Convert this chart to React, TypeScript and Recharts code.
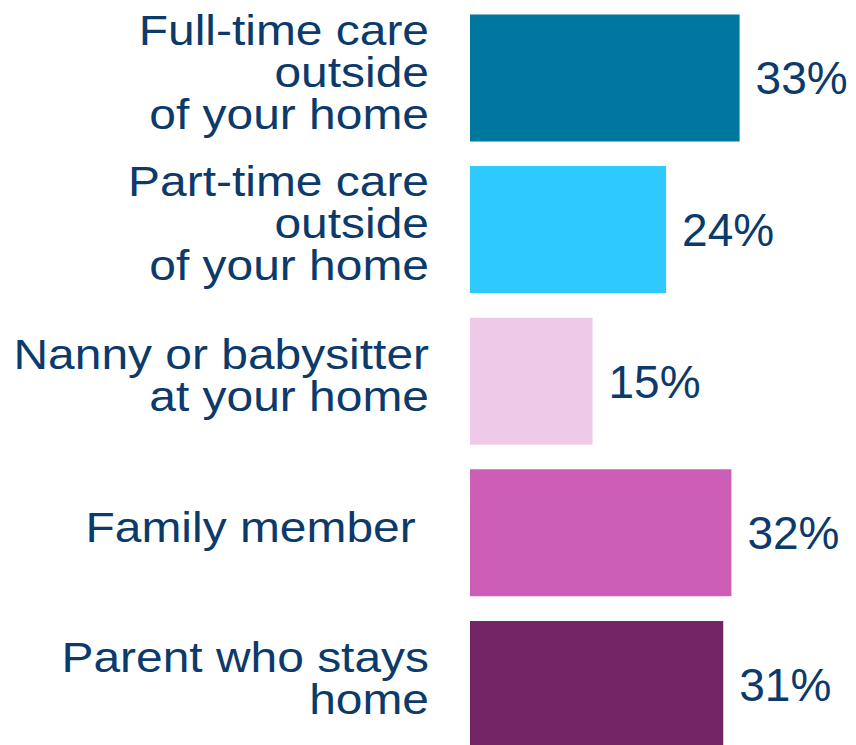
import { BarChart, Bar, XAxis, YAxis, Cell, LabelList } from 'recharts'

const categories = [
  'Full-time care\noutside\nof your home',
  'Part-time care\noutside\nof your home',
  'Nanny or babysitter\nat your home',
  'Family member ',
  'Parent who stays\nhome',
]
const values = [33, 24, 15, 32, 31]
const colors = ['#00779F', '#2EC9FF', '#EFCAE8', '#CC5EB8', '#732566']

const TEXT = '#0B3A6B'
const FONT = '"Liberation Sans", Arial, sans-serif'

const data = categories.map((name, i) => ({ name, value: values[i] }))

// multi-line, right-aligned category labels, slightly stretched like the source
const CategoryTick = ({ x, y, payload }: any) => {
  const lines = String(payload.value).split('\n')
  const lh = 42
  const first = -((lines.length - 1) * lh) / 2 + 9
  return (
    <g transform={`translate(${x},${y}) scale(1.115,1)`}>
      {lines.map((l, i) => (
        <text
          key={i}
          x={0}
          y={first + i * lh}
          textAnchor="end"
          fill={TEXT}
          fontSize={43}
          fontFamily={FONT}
          style={{ whiteSpace: 'pre' }}
        >
          {l}
        </text>
      ))}
    </g>
  )
}

export default function App() {
  return (
    <div style={{ width: 856, height: 745, overflow: 'hidden', background: '#fff' }}>
      <style>{'body{margin:0}'}</style>
      <BarChart
        width={856}
        height={760}
        data={data}
        layout="vertical"
        margin={{ top: 2, right: 0, left: 0, bottom: 0 }}
        barCategoryGap={12.5}
      >
        <XAxis type="number" domain={[0, 47.25]} hide />
        <YAxis
          type="category"
          dataKey="name"
          width={470}
          axisLine={false}
          tickLine={false}
          tickSize={0}
          tickMargin={41}
          interval={0}
          tick={<CategoryTick />}
        />
        <Bar dataKey="value" isAnimationActive={false}>
          {data.map((_, i) => (
            <Cell key={i} fill={colors[i]} />
          ))}
          <LabelList
            dataKey="value"
            position="right"
            offset={16}
            formatter={(v: any) => `${v}%`}
            fill={TEXT}
            fontSize={46}
            fontFamily={FONT}
          />
        </Bar>
      </BarChart>
    </div>
  )
}
